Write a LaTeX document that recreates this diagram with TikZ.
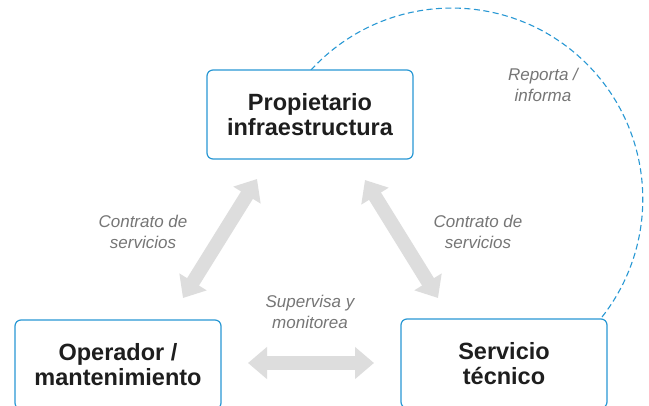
\documentclass[tikz,border=0pt]{standalone}
\usepackage{fontspec}
\setmainfont{Liberation Sans}
\usetikzlibrary{arrows.meta}
\definecolor{boxblue}{RGB}{40,152,212}
\definecolor{arrowgray}{RGB}{221,221,221}
\definecolor{labelgray}{RGB}{118,118,118}
\definecolor{textdark}{RGB}{30,30,30}
\tikzset{
  box/.style={draw=boxblue, line width=1.2pt, rounded corners=6pt, fill=white,
    minimum width=206pt, minimum height=89pt, align=center, text=textdark,
    font=\bfseries\fontsize{23.5}{25.5}\selectfont, inner sep=0pt},
  bigarrow/.style={draw=arrowgray, line width=14pt,
    {Triangle[width=31pt,length=19pt]}-{Triangle[width=31pt,length=19pt]}},
  lbl/.style={text=labelgray, align=center, font=\itshape\fontsize{17}{21}\selectfont, inner sep=0pt},
  report/.style={draw=boxblue, line width=1.1pt, dash pattern=on 6pt off 3.5pt}
}
\begin{document}
\begin{tikzpicture}[x=1pt,y=-1pt]
\useasboundingbox (0,0) rectangle (649,405);
\clip (0,0) rectangle (649,405);
\fill[white] (0,0) rectangle (649,405);
% dashed report arc
\coordinate (arcstart) at (311,70);
\draw[report] (arcstart) arc[start angle=-137.5, end angle=38.3, radius=191] coordinate (arcend);
% boxes
\node[box] (prop) at (310,114.5) {Propietario\\infraestructura};
\node[box] (oper) at (118,364.5) {Operador /\\mantenimiento};
\node[box] (serv) at (504,363.5) {Servicio\\técnico};
% arrow end points
\coordinate (l1) at (257,179);
\coordinate (l2) at (183,298);
\coordinate (r1) at (365,180);
\coordinate (r2) at (438,298);
\coordinate (h1) at (248,363);
\coordinate (h2) at (374,363);
\draw[bigarrow] (l2) -- (l1);
\draw[bigarrow] (r1) -- (r2);
\draw[bigarrow] (h1) -- (h2);
% labels
\node[lbl] (lblL) at (143,232) {Contrato de\\servicios};
\node[lbl] (lblR) at (478,232) {Contrato de\\servicios};
\node[lbl] (lblH) at (310,312) {Supervisa y\\monitorea};
\node[lbl] (lblRep) at (543,85) {Reporta /\\informa};
\end{tikzpicture}
\end{document}
